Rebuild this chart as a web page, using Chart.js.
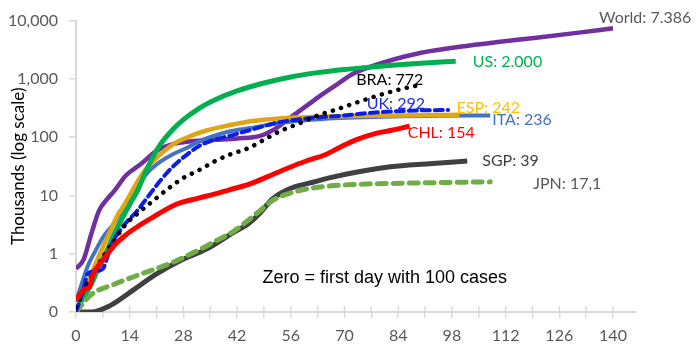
<!DOCTYPE html>
<html>
<head>
<meta charset="utf-8">
<script src="https://cdn.jsdelivr.net/npm/chart.js@4/dist/chart.umd.min.js"></script>
<style>
  html, body { margin: 0; padding: 0; background: #fff; }
</style>
</head>
<body>
<canvas id="casesChart" width="699" height="349"></canvas>
<script>
// cumulative cases, thousands, by days since 100th case: [day, value]
const world = [[0,0.55],[2,0.8],[4,2.2],[6,5.5],[8,8.5],[10,12],[13,22],[17,35],[21,58],[25,75],[30,85],[36,90],[42,95],[48,105],[52,140],[56,220],[60,340],[64,530],[68,800],[72,1200],[76,1550],[80,1900],[90,2800],[100,3550],[110,4300],[120,5100],[130,6100],[140,7386]];
const us = [[0,0.1],[2,0.18],[4,0.3],[6,0.6],[8,1.1],[10,2.2],[12,4],[14,7],[16,12],[18,24],[20,45],[22,75],[25,130],[28,200],[32,310],[36,430],[42,620],[49,850],[56,1080],[63,1280],[70,1450],[77,1600],[84,1750],[91,1880],[99,2000]];
const bra = [[0,0.12],[2,0.24],[4,0.4],[6,0.68],[8,1.1],[10,1.7],[13,3.2],[17,5.5],[20,8],[24,13],[28,20],[32,27],[36,38],[40,50],[45,65],[49,90],[53,125],[58,170],[63,235],[68,300],[73,390],[79,525],[84,650],[89,772]];
const uk = [[0,0.1],[2,0.25],[3,0.45],[5,0.5],[7,0.55],[8,0.8],[9,1.3],[12,2.8],[16,5.5],[19,10],[22,18],[25,30],[28,45],[32,70],[36,90],[40,105],[45,130],[53,180],[62,215],[69,232],[75,255],[82,275],[90,288],[97,292]];
const esp = [[0,0.1],[2,0.2],[4,0.45],[7,1.3],[9,2.5],[11,4.8],[12,6],[14,10],[17,22],[20,38],[23,58],[26,80],[30,105],[34,130],[40,160],[46,190],[53,210],[63,225],[75,232],[90,238],[100,242]];
const ita = [[0,0.15],[1,0.24],[3,0.6],[5,1.1],[7,1.9],[10,3.4],[13,7.5],[15,11.5],[19,26],[22,38],[25,50],[29,66],[32,84],[36,105],[40,125],[45,142],[53,175],[60,195],[66,210],[75,220],[85,228],[95,232],[108,236]];
const chl = [[0,0.16],[2,0.24],[3.5,0.27],[4.5,0.45],[7,0.77],[10,1.4],[13,2.1],[16,2.9],[20,4.2],[26,7],[32,9],[36,10.5],[40,12.5],[45,15.5],[50,21],[55,29],[60,39],[65,50],[69,68],[73,90],[78,115],[82,130],[87,154]];
const sgp = [[0,0.1],[4,0.1],[9,0.13],[15,0.24],[21,0.45],[27,0.75],[34,1.2],[41,2.3],[45,3.3],[48,5],[51,8.5],[54,11.5],[57,14],[62,17],[66,20],[73,25],[82,31],[92,35],[102,39]];
const jpn = [[0,0.1],[4,0.2],[10,0.3],[17,0.45],[25,0.7],[30,1.0],[33,1.25],[36,1.6],[41,2.4],[45,3.8],[48,5.5],[51,8],[54,10],[58,12],[62,13.5],[66,14.5],[73,15.5],[85,16.2],[95,16.6],[108,17.1]];

const yTickValues = [0.1, 1, 10, 100, 1000, 10000];
const yTickLabels = ["0", "1", "10", "100", "1,000", "10,000"];
const xLabelStep = 14;

// first in list is drawn on top
const series = [
  { data: chl, color: "#FF0000", width: 5, end: { text: "CHL: 154", color: "#FF0000", dx: -2, dy: 7 } },
  { data: bra, color: "#000000", width: 4.5, dash: [0.1, 8.5], end: { text: "BRA: 772", color: "#000000", dx: 6, dy: -6, align: "right" } },
  { data: uk, color: "#0A1EE6", width: 4, dash: [8, 5], end: { text: "UK: 292", color: "#1A2BE8", dx: -23, dy: -6, align: "right" } },
  { data: jpn, color: "#70AD47", width: 5, dash: [9, 7], end: { text: "JPN: 17,1", color: "#595959", dx: 43, dy: 2 } },
  { data: us, color: "#00B050", width: 5, end: { text: "US: 2.000", color: "#00B050", dx: 17, dy: 1 } },
  { data: esp, color: "#DFA514", width: 4.5, end: { text: "ESP: 242", color: "#FFC000", dx: -3, dy: -7 } },
  { data: ita, color: "#4472C4", width: 4, end: { text: "ITA: 236", color: "#4472C4", dx: 2, dy: 4 } },
  { data: sgp, color: "#404040", width: 5, end: { text: "SGP: 39", color: "#404040", dx: 15, dy: 0 } },
  { data: world, color: "#7030A0", width: 4.5, end: { text: "World: 7.386", color: "#595959", dx: -14, dy: -10 } },
];

const crossTicks = {
  id: "crossTicks",
  beforeDatasetsDraw(chart) {
    const xs = chart.scales.x;
    const ctx = chart.ctx;
    const y = chart.chartArea.bottom;
    ctx.save();
    ctx.strokeStyle = "#D9D9D9";
    ctx.lineWidth = 1.5;
    xs.ticks.forEach((t) => {
      const px = xs.getPixelForValue(t.value);
      ctx.beginPath();
      ctx.moveTo(px, y - 6);
      ctx.lineTo(px, y);
      ctx.stroke();
    });
    ctx.restore();
  },
};

const endLabels = {
  id: "endLabels",
  afterDatasetsDraw(chart) {
    const ctx = chart.ctx;
    ctx.save();
    ctx.font = "16px Lato";
    ctx.textBaseline = "middle";
    chart.data.datasets.forEach((ds, i) => {
      const pts = chart.getDatasetMeta(i).data;
      const last = pts[pts.length - 1];
      const e = series[i].end;
      ctx.fillStyle = e.color;
      ctx.textAlign = e.align || "left";
      ctx.fillText(e.text, last.x + e.dx, last.y + e.dy);
    });
    // note in the plot
    const xs = chart.scales.x, ys = chart.scales.y;
    ctx.font = "18px 'Liberation Sans'";
    ctx.fillStyle = "#000000";
    ctx.textAlign = "center";
    ctx.fillText("Zero = first day with 100 cases", xs.getPixelForValue(80.5), ys.getPixelForValue(0.38));
    ctx.restore();
  },
};

Chart.defaults.font.family = "Lato";
Chart.defaults.font.size = 16;
Chart.defaults.color = "#595959";

const ctx = document.getElementById("casesChart").getContext("2d");
new Chart(ctx, {
  type: "line",
  data: {
    datasets: series.map((s) => ({
      data: s.data.map((p) => ({ x: p[0], y: p[1] })),
      borderColor: s.color,
      borderWidth: s.width,
      borderDash: s.dash || [],
      borderCapStyle: s.dash ? "round" : "butt",
      pointRadius: 0,
      cubicInterpolationMode: "monotone",
      fill: false,
    })),
  },
  options: {
    responsive: false,
    animation: false,
    layout: { padding: { top: 18, right: 63, bottom: 0, left: 0 } },
    plugins: { legend: { display: false }, tooltip: { enabled: false } },
    scales: {
      x: {
        type: "linear",
        min: 0,
        max: 146,
        afterFit: (scale) => { scale.height = 37; },
        grid: { drawOnChartArea: false, color: "#D9D9D9", lineWidth: 1.5, tickLength: 6 },
        border: { color: "#D9D9D9", width: 2 },
        ticks: {
          stepSize: 7,
          includeBounds: false,
          autoSkip: false,
          maxRotation: 0,
          padding: 8,
          color: "#595959",
          callback: (v) => (v % xLabelStep === 0 ? String(v) : ""),
        },
      },
      y: {
        type: "logarithmic",
        min: 0.1,
        max: 10000,
        afterFit: (scale) => { scale.width = 76; },
        afterBuildTicks: (scale) => {
          scale.ticks = yTickValues.map((v) => ({ value: v }));
        },
        grid: { drawOnChartArea: false, color: "#D9D9D9", lineWidth: 1.5, tickLength: 7 },
        border: { color: "#D9D9D9", width: 2 },
        ticks: {
          padding: 11,
          color: "#595959",
          callback: (v) => yTickLabels[yTickValues.indexOf(v)] ?? "",
        },
        title: {
          display: true,
          text: "Thousands (log scale)",
          color: "#000000",
          font: { size: 17 },
          padding: { top: 8, bottom: 0 },
        },
      },
    },
  },
  plugins: [crossTicks, endLabels],
});
</script>
</body>
</html>
